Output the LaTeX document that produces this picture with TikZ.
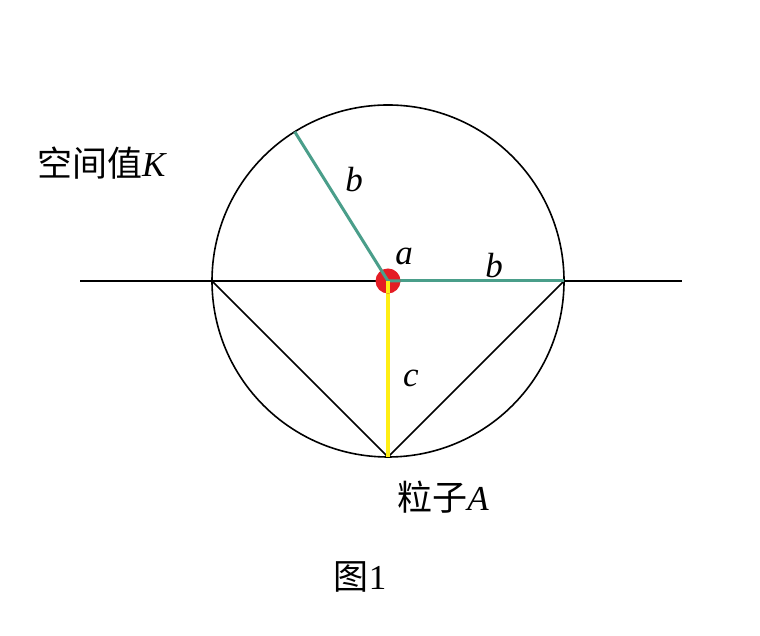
\documentclass[tikz,border=0pt]{standalone}
\usepackage{fontspec}
\usetikzlibrary{calc}
\setmainfont{Liberation Serif}
\newfontfamily\cjk{Noto Sans CJK SC}
\definecolor{radgreen}{RGB}{74,158,138}
\definecolor{radyellow}{RGB}{255,238,20}
\definecolor{dotred}{RGB}{228,28,36}
\tikzset{
  lbl/.style={inner sep=0pt, font=\fontsize{35}{40}\selectfont},
  radius line/.style={radgreen, line width=3pt},
  thin line/.style={black, line width=1.6pt}
}

\begin{document}
\begin{tikzpicture}[x=1pt,y=1pt]
\useasboundingbox (0,0) rectangle (760,636);

% circle and its points
\coordinate (O) at (388,355);
\coordinate (L) at ($(O)+(180:176)$);
\coordinate (R) at ($(O)+(0:176)$);
\coordinate (P) at ($(O)+(270:176)$);
\coordinate (U) at ($(O)+(122:176)$);
\coordinate (ends left) at (80,355);
\coordinate (ends right) at (682,355);

\draw[thin line] (O) circle (176);
\draw[thin line] (ends left) -- (ends right); %horizontal axis
\draw[thin line] (L) -- (P) -- (R);

\draw[radius line] (O) -- (U);
\draw[radius line] (O) -- (R);
\draw[radyellow, line width=3.2pt] (O) -- (P);

\fill[dotred] (O) circle (12.5);
\draw[radgreen, line width=3pt] ($(O)+(122:12.5)$) -- (O) -- ($(O)+(0:12.5)$);
\draw[radyellow, line width=3.2pt] (O) -- ($(O)+(270:12.5)$);

% labels
\node[lbl] (space) at (102,473) {{\cjk 空间值}\textit{K}};
\node[lbl] (b up) at (354,456) {\textit{b}};
\node[lbl] (a) at (404,380) {\textit{a}};
\node[lbl] (b right) at (494,370) {\textit{b}};
\node[lbl] (c) at (411,258) {\textit{c}};
\node[lbl] (particle) at (443,139) {{\cjk 粒子}\textit{A}};
\node[lbl] (fig) at (360,59) {{\cjk 图}1};
\end{tikzpicture}
\end{document}
